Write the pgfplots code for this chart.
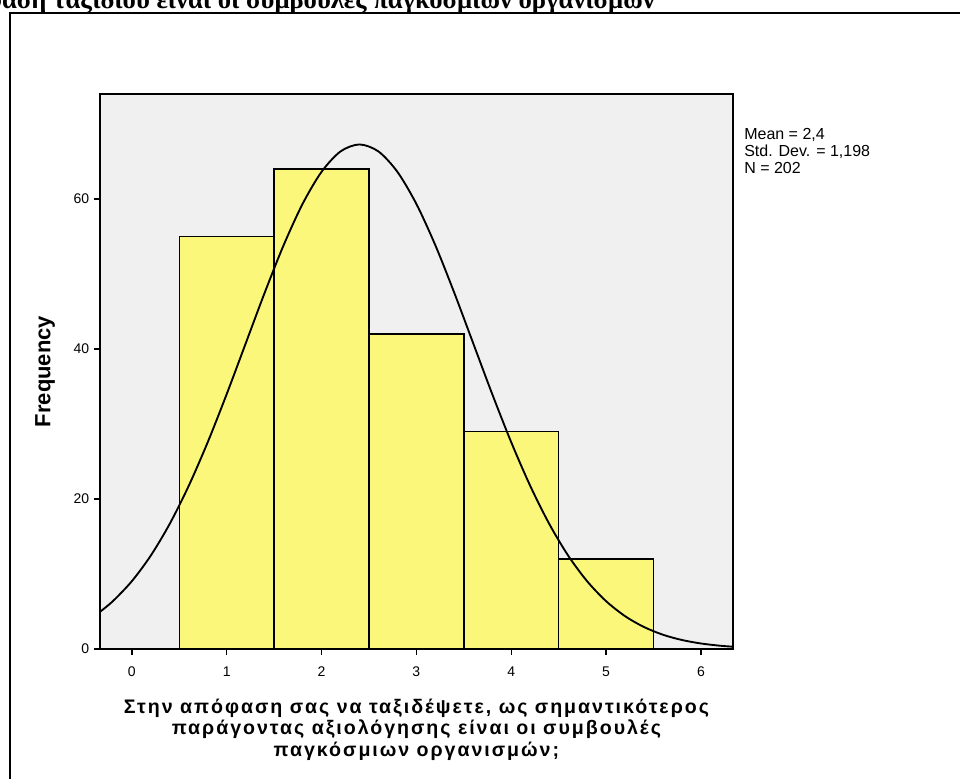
\documentclass[border=0pt]{standalone}
\usepackage{pgfplots}
\pgfplotsset{compat=1.18}
\usepackage{fontspec}
\setmainfont{Liberation Sans}
\newfontfamily\serifbf{Liberation Serif}
\definecolor{barfill}{RGB}{250,247,122}
\definecolor{bgc}{RGB}{240,240,240}
\begin{document}
\begin{tikzpicture}[x=0.75pt,y=0.75pt]
\clip (0,0) rectangle (960,778);
\fill[white] (0,0) rectangle (960,778);
\draw[overlay, line width=1.5pt] (10,-30) rectangle (1000,765);
\node[overlay, anchor=base east, inner sep=0, font=\serifbf\bfseries\fontsize{20}{22}\selectfont] at (655,769) {Στην απόφαση ταξιδιού είναι οι συμβουλές παγκόσμιων οργανισμών};
\begin{axis}[
  at={(139,172)}, anchor=origin,
  scale only axis, width=474.75pt, height=416.25pt,
  xmin=-0.337, xmax=6.337, ymin=0, ymax=74,
  axis background/.style={fill=bgc},
  xtick={0,1,2,3,4,5,6}, ytick={0,20,40,60},
  tick pos=left, tick align=outside, major tick length=4.5pt,
  tick style={line width=1pt, black},
  axis line style={line width=1.1pt},
  ticklabel style={font=\fontsize{10.5}{12}\selectfont},
  xticklabel style={yshift=-5.5pt},
  /pgf/number format/assume math mode=true,
  xlabel={Στην απόφαση σας να ταξιδέψετε, ως σημαντικότερος\\παράγοντας αξιολόγησης είναι οι συμβουλές\\παγκόσμιων οργανισμών;},
  xlabel style={font=\bfseries\fontsize{14.7}{16.3}\selectfont\addfontfeatures{LetterSpace=10}, align=center, at={(axis description cs:0.5,0)}, anchor=north, inner sep=0, yshift=-37pt},
  ylabel={Frequency},
  ylabel style={font=\bfseries\fontsize{16.5}{18}\selectfont, at={(axis description cs:0,0.5)}, anchor=center, inner sep=0, yshift=41pt},
  axis on top,
]
\addplot[ybar interval, fill=barfill, draw=black, line width=1.1pt] coordinates {
(0.5,55) (1.5,64) (2.5,42) (3.5,29) (4.5,12) (5.5,12)};
\addplot[smooth, black, line width=1.4pt, no marks] coordinates {
(-0.34,4.92) (-0.2,6.38) (0,9.04) (0.2,12.46) (0.4,16.70) (0.6,21.76) (0.8,27.57)
(1.0,33.98) (1.2,40.73) (1.4,47.48) (1.6,53.83) (1.8,59.34) (2.0,63.62) (2.2,66.34)
(2.4,67.27) (2.6,66.34) (2.8,63.62) (3.0,59.34) (3.2,53.83) (3.4,47.48) (3.6,40.73)
(3.8,33.98) (4.0,27.57) (4.2,21.76) (4.4,16.70) (4.6,12.46) (4.8,9.04) (5.0,6.38)
(5.2,4.38) (5.4,2.93) (5.6,1.90) (5.8,1.20) (6.0,0.736) (6.2,0.439) (6.34,0.301)};
\end{axis}
\node[anchor=north west, inner sep=0, align=left, font=\fontsize{12}{12.75}\selectfont] at (744,650) {Mean = 2,4\\Std. Dev. = 1,198\\N = 202};
\end{tikzpicture}
\end{document}
